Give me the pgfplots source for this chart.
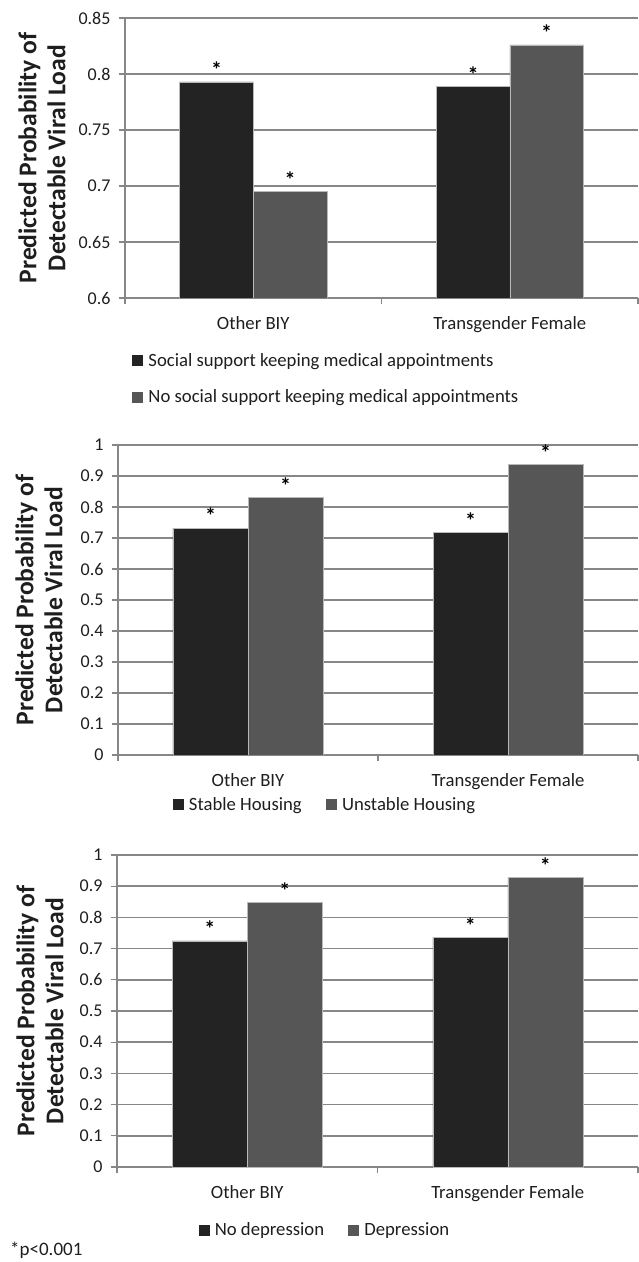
\documentclass[border=0pt]{standalone}
\usepackage{fontspec}
\setmainfont{Carlito}
\usepackage{pgfplots}
\pgfplotsset{compat=1.18}
\definecolor{darkbar}{HTML}{232323}
\definecolor{graybar}{HTML}{565656}
\definecolor{gridgray}{HTML}{878787}
\definecolor{txt}{HTML}{1E1E1E}
\pgfplotsset{
  panel/.style={
    scale only axis,
    xmin=-0.5, xmax=1.5,
    axis x line*=bottom, axis y line*=left,
    axis line style={draw=gridgray, line width=1.5pt, -},
    ymajorgrids,
    grid style={draw=gridgray, line width=1.6pt},
    tick align=outside,
    major tick length=6pt,
    tick style={draw=gridgray, line width=1.2pt},
    xtick={-0.5,0.5,1.5}, xticklabels={},
    extra x ticks={0,1},
    extra x tick labels={Other BIY, Transgender Female},
    extra x tick style={major tick length=0pt, grid=none,
      xticklabel style={font=\fontsize{18.7}{22}\selectfont, text=txt, yshift=-15pt}},
    yticklabel style={font=\fontsize{18}{20}\selectfont, text=txt, xshift=-5pt},
    /pgf/number format/assume math mode=true,
    ylabel={Predicted Probability of\\Detectable Viral Load},
    ylabel style={align=center, font=\bfseries\fontsize{25.6}{29}\selectfont, text=txt, anchor=center},
    ybar=0pt,
    nodes near coords={*},
    every node near coord/.append style={font=\bfseries\fontsize{22}{22}\selectfont, inner sep=0pt, anchor=south, yshift=4pt, text=black},
    legend image code/.code={\fill[#1,draw=none] (0pt,-5.5pt) rectangle (11pt,5.5pt); \path (14pt,0pt);},
    legend style={draw=none, fill=none, font=\fontsize{18.7}{22}\selectfont, text=txt, inner sep=0pt},
  },
  darkstyle/.style={fill=darkbar, draw=gray!55, line width=0.5pt},
  graystyle/.style={fill=graybar, draw=gray!55, line width=0.5pt},
}
\begin{document}
\begin{tikzpicture}[x=1pt,y=1pt]
\useasboundingbox (0,0) rectangle (638,1262);
% Panel 1
\begin{axis}[panel, at={(125pt,964pt)}, anchor=south west,
  width=513pt, height=280pt,
  ymin=0.6, ymax=0.85, ytick={0.6,0.65,...,0.86},
  bar width=73.5pt,
  ylabel style={at={(axis description cs:-0.162,0.5)}},
  legend columns=1,
  legend cell align=left,
  legend style={at={(axis description cs:0.0136,-0.19)}, anchor=north west, row sep=18pt},
]
\addplot[darkstyle] coordinates {(0,0.793) (1,0.789)};
\addplot[graystyle] coordinates {(0,0.695) (1,0.826)};
\legend{Social support keeping medical appointments, No social support keeping medical appointments}
\end{axis}
% Panel 2
\begin{axis}[panel, at={(118pt,507pt)}, anchor=south west,
  width=520pt, height=310pt,
  ymin=0, ymax=1, ytick={0,0.1,...,1.01},
  bar width=75pt,
  ylabel style={at={(axis description cs:-0.152,0.5)}},
  legend columns=2,
  legend style={at={(axis description cs:0.398,-0.161)}, anchor=center,
    /tikz/every even column/.append style={column sep=22pt}},
]
\addplot[darkstyle] coordinates {(0,0.732) (1,0.718)};
\addplot[graystyle] coordinates {(0,0.831) (1,0.937)};
\legend{Stable Housing, Unstable Housing}
\end{axis}
% Panel 3
\begin{axis}[panel, at={(117pt,95pt)}, anchor=south west,
  width=521pt, height=312pt,
  ymin=0, ymax=1, ytick={0,0.1,...,1.01},
  bar width=75pt,
  ylabel style={at={(axis description cs:-0.148,0.5)}},
  legend columns=2,
  legend style={at={(axis description cs:0.399,-0.202)}, anchor=center,
    /tikz/every even column/.append style={column sep=22pt}},
]
\addplot[darkstyle] coordinates {(0,0.725) (1,0.736)};
\addplot[graystyle] coordinates {(0,0.847) (1,0.928)};
\legend{No depression, Depression}
\end{axis}
\node[anchor=base west, font=\fontsize{19}{22}\selectfont, text=txt, inner sep=0pt] at (10,6) {*p<0.001};
\end{tikzpicture}
\end{document}
